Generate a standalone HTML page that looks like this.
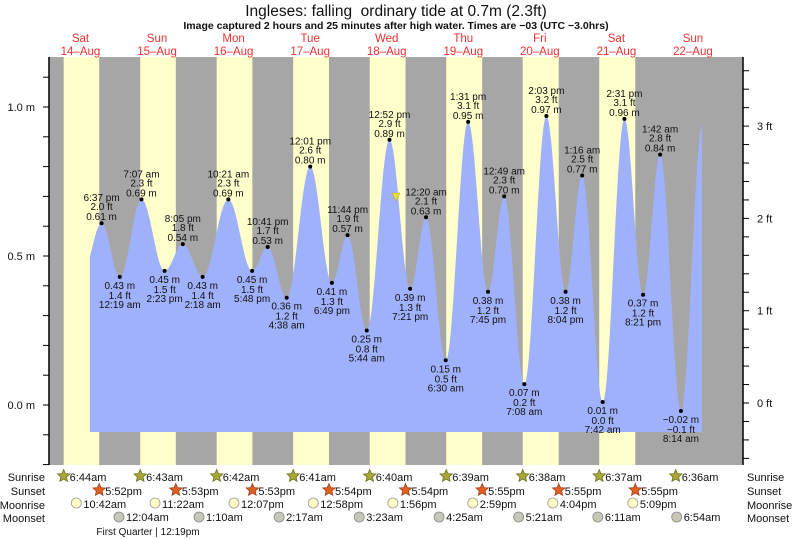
<!DOCTYPE html>
<html><head><meta charset="utf-8"><style>
html,body{margin:0;padding:0;background:#fff}
svg{display:block;font-family:"Liberation Sans",sans-serif}
text{white-space:pre}
</style></head><body>
<svg id="s" width="793" height="539" xmlns="http://www.w3.org/2000/svg"></svg>
<script>
var s=document.getElementById('s');var o='';
var X0=42.2,PX=3.19;function xh(h){return X0+h*PX}
function ym(m){return 405-m*298}
o+='<rect x="49" y="57" width="694" height="408" fill="#a6a6a6"/>';
var sr=[6.733,6.717,6.7,6.683,6.667,6.65,6.633,6.617,6.6],ss=[17.867,17.883,17.883,17.9,17.9,17.917,17.917,17.917];
for(var d=0;d<8;d++){var a=xh(d*24+sr[d]),b=xh(d*24+ss[d]);o+='<rect x="'+a+'" y="57" width="'+(b-a)+'" height="408" fill="#ffffcc"/>';}
var ex=[[12.8,0.45],[18.62,0.61],[24.32,0.43],[31.12,0.69],[38.38,0.45],[44.08,0.54],[50.3,0.43],[58.35,0.69],[65.8,0.45],[70.68,0.53],[76.63,0.36],[84.02,0.80],[90.82,0.41],[95.73,0.57],[101.73,0.25],[108.87,0.89],[115.35,0.39],[120.33,0.63],[126.5,0.15],[133.52,0.95],[139.75,0.38],[144.82,0.70],[151.13,0.07],[158.05,0.97],[164.07,0.38],[169.27,0.77],[175.7,0.01],[182.52,0.96],[188.35,0.37],[193.7,0.84],[200.23,-0.02],[207.0,0.94]];
function lv(h){for(var i=0;i<ex.length-1;i++){if(h>=ex[i][0]&&h<=ex[i+1][0]){var t=(h-ex[i][0])/(ex[i+1][0]-ex[i][0]);return ex[i][1]+(ex[i+1][1]-ex[i][1])*(1-Math.cos(Math.PI*t))/2;}}return ex[ex.length-1][1];}
var h0=(90-X0)/PX,h1=(702-X0)/PX,p='M90,432';
for(var h=h0;h<=h1;h+=0.1){p+=' L'+xh(h).toFixed(2)+','+ym(lv(h)).toFixed(2);}
p+=' L702,'+ym(lv(h1)).toFixed(2)+' L702,432 Z';
o+='<path d="'+p+'" fill="#9fb1fb"/>';
var lab=[[18.62,0.61,'6:37 pm','2.0 ft'],[24.32,0.43,'12:19 am','1.4 ft'],[31.12,0.69,'7:07 am','2.3 ft'],[38.38,0.45,'2:23 pm','1.5 ft'],[44.08,0.54,'8:05 pm','1.8 ft'],[50.3,0.43,'2:18 am','1.4 ft'],[58.35,0.69,'10:21 am','2.3 ft'],[65.8,0.45,'5:48 pm','1.5 ft'],[70.68,0.53,'10:41 pm','1.7 ft'],[76.63,0.36,'4:38 am','1.2 ft'],[84.02,0.80,'12:01 pm','2.6 ft'],[90.82,0.41,'6:49 pm','1.3 ft'],[95.73,0.57,'11:44 pm','1.9 ft'],[101.73,0.25,'5:44 am','0.8 ft'],[108.87,0.89,'12:52 pm','2.9 ft'],[115.35,0.39,'7:21 pm','1.3 ft'],[120.33,0.63,'12:20 am','2.1 ft'],[126.5,0.15,'6:30 am','0.5 ft'],[133.52,0.95,'1:31 pm','3.1 ft'],[139.75,0.38,'7:45 pm','1.2 ft'],[144.82,0.70,'12:49 am','2.3 ft'],[151.13,0.07,'7:08 am','0.2 ft'],[158.05,0.97,'2:03 pm','3.2 ft'],[164.07,0.38,'8:04 pm','1.2 ft'],[169.27,0.77,'1:16 am','2.5 ft'],[175.7,0.01,'7:42 am','0.0 ft'],[182.52,0.96,'2:31 pm','3.1 ft'],[188.35,0.37,'8:21 pm','1.2 ft'],[193.7,0.84,'1:42 am','2.8 ft'],[200.23,-0.02,'8:14 am','\u22120.1 ft']];
var T='font-size="10" fill="#111" text-anchor="middle"';
for(var i=0;i<lab.length;i++){var L=lab[i],x=xh(L[0]),y=ym(L[1]);var hi=(i%2==0);
var ms=(L[1]<0?'\u2212'+(-L[1]).toFixed(2):L[1].toFixed(2))+' m';
o+='<circle cx="'+x+'" cy="'+y+'" r="2" fill="#000"/>';
if(hi){o+='<text x="'+x+'" y="'+(y-3)+'" '+T+'>'+ms+'</text><text x="'+x+'" y="'+(y-13)+'" '+T+'>'+L[3]+'</text><text x="'+x+'" y="'+(y-22)+'" '+T+'>'+L[2]+'</text>';}
else{o+='<text x="'+x+'" y="'+(y+12)+'" '+T+'>'+ms+'</text><text x="'+x+'" y="'+(y+22)+'" '+T+'>'+L[3]+'</text><text x="'+x+'" y="'+(y+31)+'" '+T+'>'+L[2]+'</text>';}}
o+='<polygon points="392,193 400,193 396,201" fill="#e8e030" stroke="#aaa020" stroke-width="0.5"/>';
o+='<line x1="49" y1="57" x2="49" y2="465" stroke="#000" stroke-width="1.5"/><line x1="743" y1="57" x2="743" y2="465" stroke="#000" stroke-width="1.5"/>';
for(var k=-2;k<=11;k++){var yy=ym(k/10);if(yy>=57&&yy<=465)o+='<line x1="43" y1="'+yy+'" x2="49" y2="'+yy+'" stroke="#000"/>';}
[[0,'0.0 m'],[0.5,'0.5 m'],[1,'1.0 m']].forEach(function(q){o+='<text x="35" y="'+(ym(q[0])+4)+'" font-size="11" text-anchor="end" fill="#111">'+q[1]+'</text>';});
for(var k=-4;k<=19;k++){var yy=403-k*0.2*92.3;if(yy>=57&&yy<=465)o+='<line x1="743" y1="'+yy+'" x2="749" y2="'+yy+'" stroke="#000"/>';}
for(var k=0;k<=3;k++){o+='<text x="757" y="'+(403-k*92.3+4)+'" font-size="11" fill="#111">'+k+' ft</text>';}
o+='<text x="396" y="16" font-size="15.5" text-anchor="middle" fill="#111">Ingleses: falling  ordinary tide at 0.7m (2.3ft)</text>';
o+='<text x="396" y="29" font-size="10.5" font-weight="bold" text-anchor="middle" fill="#111">Image captured 2 hours and 25 minutes after high water. Times are \u221203 (UTC \u22123.0hrs)</text>';
var dn=['Sat','Sun','Mon','Tue','Wed','Thu','Fri','Sat','Sun'];
for(var d=0;d<9;d++){var cx=xh(d*24+12);o+='<text x="'+cx+'" y="42" font-size="11.5" fill="#f03030" text-anchor="middle">'+dn[d]+'</text><text x="'+cx+'" y="55" font-size="11.5" fill="#f03030" text-anchor="middle">'+(14+d)+'\u2013Aug</text>';}
var rows=[['Sunrise',477],['Sunset',491],['Moonrise',505],['Moonset',518]];
rows.forEach(function(r){o+='<text x="45" y="'+(r[1]+4)+'" font-size="11" text-anchor="end" fill="#111">'+r[0]+'</text><text x="747" y="'+(r[1]+4)+'" font-size="11" fill="#111">'+r[0]+'</text>';});
function star(x,y,f,st){var pts=[];for(var j=0;j<10;j++){var r=j%2?3:6.5,a=-Math.PI/2+j*Math.PI/5;pts.push((x+r*Math.cos(a)).toFixed(1)+','+(y+r*Math.sin(a)).toFixed(1));}return '<polygon points="'+pts.join(' ')+'" fill="'+f+'" stroke="'+st+'" stroke-width="0.8"/>';}
var srt=['6:44am','6:43am','6:42am','6:41am','6:40am','6:39am','6:38am','6:37am','6:36am'];
for(var d=0;d<9;d++){var x=xh(d*24+sr[d]);o+=star(x,476,'#a8a838','#707020')+'<text x="'+(x+6)+'" y="481" font-size="11" fill="#111">'+srt[d]+'</text>';}
var sst=['5:52pm','5:53pm','5:53pm','5:54pm','5:54pm','5:55pm','5:55pm','5:55pm'];
for(var d=0;d<8;d++){var x=xh(d*24+ss[d]);o+=star(x,490,'#e06020','#a04020')+'<text x="'+(x+6)+'" y="495" font-size="11" fill="#111">'+sst[d]+'</text>';}
var mr=[[10.7,'10:42am'],[35.37,'11:22am'],[60.12,'12:07pm'],[84.97,'12:58pm'],[109.93,'1:56pm'],[134.98,'2:59pm'],[160.07,'4:04pm'],[185.15,'5:09pm']];
mr.forEach(function(m){var x=xh(m[0]);o+='<circle cx="'+x+'" cy="503" r="5" fill="#ffffc8" stroke="#999" stroke-width="0.8"/><text x="'+(x+7)+'" y="508" font-size="11" fill="#111">'+m[1]+'</text>';});
var ms2=[[24.07,'12:04am'],[49.17,'1:10am'],[74.28,'2:17am'],[99.38,'3:23am'],[124.42,'4:25am'],[149.35,'5:21am'],[174.18,'6:11am'],[198.9,'6:54am']];
ms2.forEach(function(m){var x=xh(m[0]);o+='<circle cx="'+x+'" cy="517" r="5" fill="#c8c8b8" stroke="#888" stroke-width="0.8"/><text x="'+(x+7)+'" y="521" font-size="11" fill="#111">'+m[1]+'</text>';});
o+='<text x="148" y="535" font-size="10" text-anchor="middle" fill="#111">First Quarter | 12:19pm</text>';
s.innerHTML=o;
</script>
</body></html>
